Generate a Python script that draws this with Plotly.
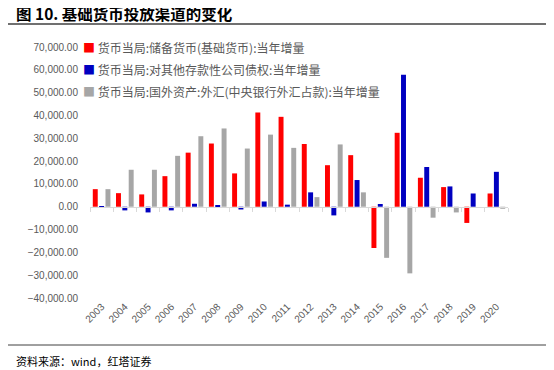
import plotly.graph_objects as go

years = [str(y) for y in range(2003, 2021)]
reserve_money = [7700, 5950, 5400, 13400, 23700, 27700, 14600, 41300, 39400, 27500,
                 18200, 22600, -18100, 32400, 12700, 8600, -7100, 5800]
claims_other = [-400, -1600, -2500, -1600, 1300, 600, -1200, 2300, 900, 6300,
                -3800, 11700, 1200, 57800, 17400, 8900, 5800, 15300]
fx_assets = [7700, 16200, 16200, 22300, 30900, 34300, 25500, 31600, 25800, 4200,
             27300, 6300, -22400, -29200, -4800, -2500, 0, -900]
names = ["货币当局:储备货币(基础货币):当年增量",
         "货币当局:对其他存款性公司债权:当年增量",
         "货币当局:国外资产:外汇(中央银行外汇占款):当年增量"]
colors = ["#FF0000", "#0000C0", "#A6A6A6"]
y_ticks = list(range(-40000, 70001, 10000))

FONT = "Noto Sans CJK SC, Liberation Sans, Arial"
fig = go.Figure()
for vals, nm, c in zip([reserve_money, claims_other, fx_assets], names, colors):
    fig.add_trace(go.Bar(x=years, y=vals, name=nm, marker_color=c,
                         marker_line_width=0, showlegend=False))
# helper axis for zero-line tick marks
fig.add_trace(go.Scatter(x=years, y=[0]*len(years), xaxis="x2", mode="lines",
                         opacity=0, showlegend=False, hoverinfo="skip"))

# page body has an 8px margin; compensate so the figure lands where the reference does
OFF = 8
L, T = 90 - OFF, 47 - OFF
PW, PH = 418, 251
ymin, ymax = -40000, 70000
xr = [-0.5, len(years) - 0.5]
fig.update_layout(
    width=554, height=370,
    margin=dict(l=L, r=554 - L - PW, t=T, b=370 - T - PH),
    paper_bgcolor="white", plot_bgcolor="white",
    font=dict(family=FONT, size=10, color="#595959"),
    barmode="group", bargap=0.18, bargroupgap=0.22,
    showlegend=False,
    xaxis=dict(type="category", range=xr, showline=False, ticks="", tickangle=-45,
               tickfont=dict(size=10, family="Liberation Sans, Arial", color="#595959"),
               showgrid=False, zeroline=False),
    xaxis2=dict(type="category", range=xr, overlaying="x", anchor="free",
                position=(0 - ymin) / (ymax - ymin), side="bottom",
                showline=True, linecolor="#D9D9D9", linewidth=1,
                ticks="outside", ticklen=4, tickcolor="#D9D9D9", tickson="boundaries",
                showticklabels=False, showgrid=False, zeroline=False),
    yaxis=dict(range=[ymin, ymax], tickvals=y_ticks, tickformat=",.2f",
               showgrid=False, zeroline=False, showline=False, ticks="",
               ticklabelstandoff=11,
               tickfont=dict(size=10, family="Liberation Sans, Arial", color="#595959")),
)

def px_x(x):
    return (x - OFF - L) / PW

def px_y(y):
    return 1 - (y - OFF - T) / PH

# legend rows
for i, (nm, c) in enumerate(zip(names, colors)):
    fig.add_annotation(text=f"<span style='color:{c}'>■</span> {nm}",
                       xref="paper", yref="paper", x=px_x(81), y=px_y(47 + 22 * i),
                       xanchor="left", yanchor="middle", showarrow=False,
                       font=dict(size=12, color="#595959", family=FONT))

fig.add_annotation(text="<b>图 10. 基础货币投放渠道的变化</b>", xref="paper", yref="paper",
                   x=px_x(14), y=px_y(12.5), xanchor="left", yanchor="middle",
                   showarrow=False, font=dict(size=15.5, color="#000000", family=FONT))
fig.add_annotation(text="资料来源：wind，红塔证券", xref="paper", yref="paper",
                   x=px_x(14), y=px_y(361), xanchor="left", yanchor="middle",
                   showarrow=False, font=dict(size=11, color="#000000", family=FONT))
fig.add_shape(type="line", xref="paper", yref="paper", x0=px_x(3), x1=px_x(551),
              y0=px_y(24), y1=px_y(24), line=dict(color="#404040", width=1.5))
fig.add_shape(type="line", xref="paper", yref="paper", x0=px_x(3), x1=px_x(551),
              y0=px_y(345), y1=px_y(345), line=dict(color="#404040", width=1))

fig.write_html("out.html")
